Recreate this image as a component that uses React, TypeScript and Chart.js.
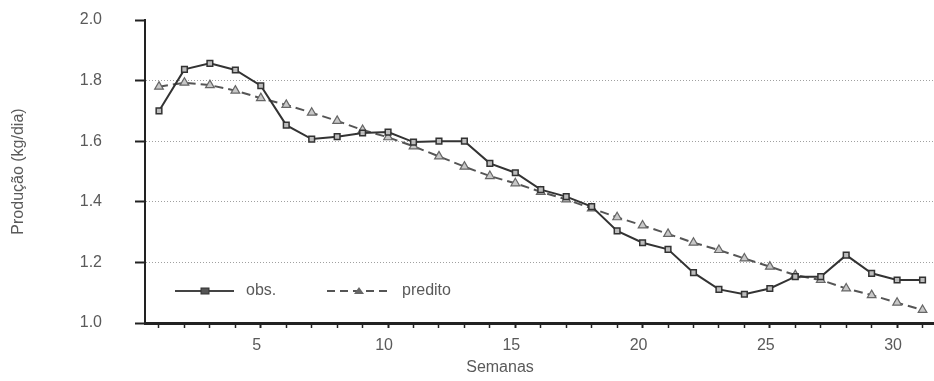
import React, { useEffect, useRef } from "react";
import { Chart, registerables } from "chart.js";

Chart.register(...registerables);

const weeks = [1,2,3,4,5,6,7,8,9,10,11,12,13,14,15,16,17,18,19,20,21,22,23,24,25,26,27,28,29,30,31];
const obsValues = [1.70,1.837,1.857,1.835,1.783,1.653,1.607,1.615,1.627,1.63,1.597,1.60,1.60,1.527,1.496,1.44,1.417,1.384,1.304,1.265,1.243,1.166,1.111,1.095,1.114,1.153,1.153,1.224,1.164,1.142,1.142];
const preditoValues = [1.78,1.793,1.785,1.767,1.742,1.72,1.694,1.667,1.637,1.613,1.583,1.55,1.516,1.485,1.461,1.433,1.408,1.378,1.349,1.322,1.294,1.265,1.241,1.213,1.186,1.158,1.142,1.114,1.092,1.067,1.043];
const yTicks = [1.0, 1.2, 1.4, 1.6, 1.8, 2.0];
const xLabelTicks = [5, 10, 15, 20, 25, 30];
const seriesNames = ["obs.", "predito"];
const yTitle = "Produção (kg/dia)";
const xTitle = "Semanas";

const FONT = "'Liberation Sans', Arial, Helvetica, sans-serif";
const TEXT = "#5a5a5a";

const legendAndTitlePlugin = {
  id: "customLegend",
  afterDraw(chart: any) {
    const ctx = chart.ctx;
    ctx.save();
    const y = 291;
    // obs.
    ctx.strokeStyle = "#444";
    ctx.lineWidth = 2;
    ctx.setLineDash([]);
    ctx.beginPath();
    ctx.moveTo(175, y);
    ctx.lineTo(234, y);
    ctx.stroke();
    ctx.fillStyle = "#555";
    ctx.strokeStyle = "#333";
    ctx.lineWidth = 1;
    ctx.fillRect(201, y - 3, 8, 6);
    ctx.strokeRect(201, y - 3, 8, 6);
    // predito
    ctx.strokeStyle = "#555";
    ctx.lineWidth = 2;
    ctx.setLineDash([8, 5]);
    ctx.beginPath();
    ctx.moveTo(327, y);
    ctx.lineTo(390, y);
    ctx.stroke();
    ctx.setLineDash([]);
    ctx.fillStyle = "#666";
    ctx.beginPath();
    ctx.moveTo(359, y - 4);
    ctx.lineTo(364, y + 3);
    ctx.lineTo(354, y + 3);
    ctx.closePath();
    ctx.fill();
    ctx.font = `16px ${FONT}`;
    ctx.fillStyle = TEXT;
    ctx.textBaseline = "middle";
    ctx.textAlign = "left";
    ctx.fillText(seriesNames[0], 246, y);
    ctx.fillText(seriesNames[1], 402, y);
    // x title
    ctx.textAlign = "center";
    ctx.fillText(xTitle, 500, 368);
    ctx.restore();
  },
};

export default function App() {
  const ref = useRef<HTMLCanvasElement | null>(null);
  useEffect(() => {
    if (!ref.current) return;
    const chart = new Chart(ref.current, {
      type: "line",
      data: {
        datasets: [
          {
            label: seriesNames[0],
            data: weeks.map((w, i) => ({ x: w, y: obsValues[i] })),
            borderColor: "#333",
            borderWidth: 2,
            pointStyle: "rect",
            pointRadius: 4,
            pointBackgroundColor: "#bdbdbd",
            pointBorderColor: "#333",
            pointBorderWidth: 1.5,
            tension: 0,
          },
          {
            label: seriesNames[1],
            data: weeks.map((w, i) => ({ x: w, y: preditoValues[i] })),
            borderColor: "#555",
            borderWidth: 2,
            borderDash: [9, 5],
            pointStyle: "triangle",
            pointRadius: 5,
            pointBackgroundColor: "#c8c8c8",
            pointBorderColor: "#666",
            pointBorderWidth: 1.2,
            tension: 0,
          },
        ],
      },
      options: {
        animation: false,
        responsive: false,
        layout: { autoPadding: false, padding: { top: 20, left: 0, right: 0, bottom: 0 } },
        plugins: { legend: { display: false }, tooltip: { enabled: false } },
        scales: {
          x: {
            type: "linear",
            min: 0.45,
            max: 31.45,
            afterFit: (s: any) => {
              s.height = 58;
              s.paddingLeft = 0;
              s.paddingRight = 0;
              s.paddingTop = 0;
              s.paddingBottom = 0;
            },
            afterBuildTicks: (s: any) => {
              s.ticks = weeks.map((w) => ({ value: w }));
            },
            ticks: {
              autoSkip: false,
              maxRotation: 0,
              padding: 8,
              labelOffset: -4,
              color: TEXT,
              font: { family: FONT, size: 16 },
              callback: (v: any) => (xLabelTicks.includes(Number(v)) ? String(v) : ""),
            },
            grid: {
              drawOnChartArea: false,
              drawTicks: true,
              tickLength: 5,
              tickColor: "#222",
              tickWidth: (c: any) => (xLabelTicks.includes(c.tick?.value) ? 2 : 1.5),
            },
            border: { display: true, color: "#222", width: 3 },
            title: { display: false },
          },
          y: {
            type: "linear",
            min: 1.0,
            max: 2.0,
            afterFit: (s: any) => {
              s.width = 145;
              s.paddingTop = 0;
              s.paddingBottom = 0;
              s.paddingLeft = 0;
              s.paddingRight = 0;
            },
            afterBuildTicks: (s: any) => {
              s.ticks = yTicks.map((v) => ({ value: v }));
            },
            ticks: {
              padding: 33,
              color: TEXT,
              font: { family: FONT, size: 16 },
              callback: (v: any) => Number(v).toFixed(1),
            },
            grid: {
              color: (c: any) => {
                const v = c.tick?.value;
                return v === 1.0 || v === 2.0 ? "rgba(0,0,0,0)" : "#a0a0a0";
              },
              lineWidth: 1,
              drawTicks: true,
              tickLength: 10,
              tickColor: "#222",
              tickWidth: 2,
              tickBorderDash: [],
            },
            border: { display: true, color: "#222", width: 2, dash: [1, 2] },
            title: {
              display: true,
              text: yTitle,
              color: TEXT,
              font: { family: FONT, size: 16 },
              padding: { top: 9, bottom: 0 },
            },
          },
        },
      },
      plugins: [legendAndTitlePlugin],
    } as any);
    return () => chart.destroy();
  }, []);
  return (
    <div style={{ position: "absolute", left: 0, top: 0, width: 934, height: 381, background: "#fff" }}>
      <canvas ref={ref} width={934} height={381} />
    </div>
  );
}
